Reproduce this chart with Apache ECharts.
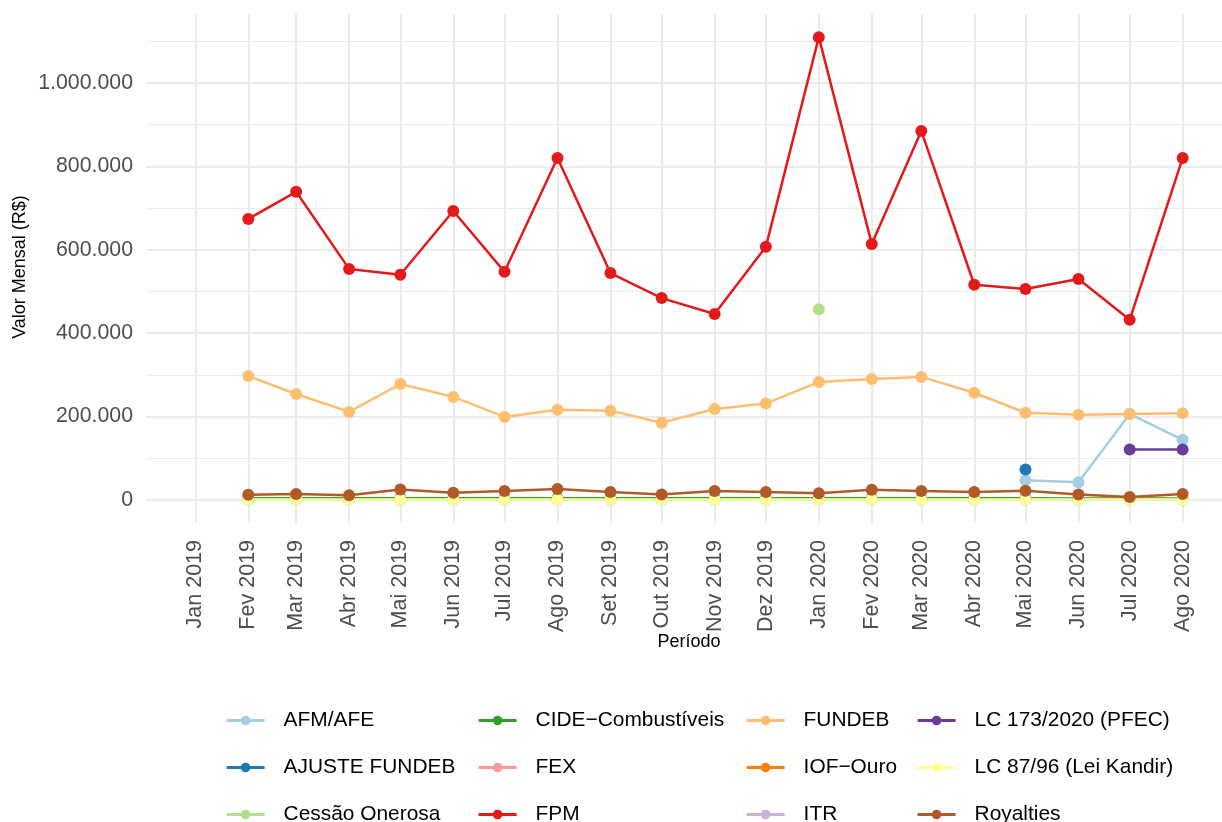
<!DOCTYPE html>
<html>
<head>
<meta charset="utf-8">
<script src="https://cdn.jsdelivr.net/npm/echarts@6/dist/echarts.min.js"></script>
<style>
  html, body { margin: 0; padding: 0; background: #ffffff; }
  #chart { width: 1222px; height: 822px; }
</style>
</head>
<body>
<div id="chart"></div>
<script>
// month labels on the x axis (Portuguese abbreviations)
const mesesPt = ["Jan", "Fev", "Mar", "Abr", "Mai", "Jun", "Jul", "Ago", "Set", "Out", "Nov", "Dez"];
const rotulos = [
  "Jan 2019", "Fev 2019", "Mar 2019", "Abr 2019", "Mai 2019", "Jun 2019", "Jul 2019",
  "Ago 2019", "Set 2019", "Out 2019", "Nov 2019", "Dez 2019", "Jan 2020", "Fev 2020",
  "Mar 2020", "Abr 2020", "Mai 2020", "Jun 2020", "Jul 2020", "Ago 2020"
];

// values per month, aligned with rotulos (null = no transfer)
const afmAfe = [null, null, null, null, null, null, null, null, null, null, null, null,
  null, null, null, null, 47000, 42000, 206000, 144000];
const ajusteFundeb = [null, null, null, null, null, null, null, null, null, null, null, null,
  null, null, null, null, 73000, null, null, null];
const cessaoOnerosa = [null, null, null, null, null, null, null, null, null, null, null, null,
  457000, null, null, null, null, null, null, null];
const cide = [null, 4000, 4000, 4000, 4000, 4000, 4000, 4000, 4000, 4000, 4000, 4000,
  4000, 4000, 4000, 4000, 4000, 3500, 3500, 3500];
const fex = [null, null, null, null, null, null, null, null, null, null, null, null,
  null, null, null, null, null, null, null, null];
const fpm = [null, 674000, 739000, 554000, 540000, 693000, 547000, 820000, 544000, 484000,
  446000, 607000, 1110000, 614000, 885000, 516000, 506000, 530000, 432000, 820000];
const fundeb = [null, 297000, 254000, 211000, 278000, 247000, 199000, 216000, 214000, 185000,
  218000, 231000, 283000, 290000, 295000, 257000, 209000, 204000, 206000, 208000];
const iofOuro = [null, null, null, null, null, null, null, null, null, null, null, null,
  null, null, null, null, null, null, null, null];
const itr = [null, 300, 300, 300, 300, 300, 300, 300, 300, 300, 300, 300,
  300, 300, 300, 300, 300, 300, 300, 300];
const lc173 = [null, null, null, null, null, null, null, null, null, null, null, null,
  null, null, null, null, null, null, 121000, 121000];
const lc8796 = [null, 800, 800, 800, 800, 800, 800, 800, 800, 800, 800, 800,
  800, 800, 800, 800, 800, 800, 800, 800];
const royalties = [null, 12000, 14000, 11000, 25000, 17000, 21000, 26000, 19000, 13000,
  21000, 19000, 16000, 24000, 21000, 19000, 22000, 13000, 7000, 14000];

const yTicks = [0, 200000, 400000, 600000, 800000, 1000000];
const yMinor = [100000, 300000, 500000, 700000, 900000, 1100000];

const nomes = [
  "AFM/AFE", "AJUSTE FUNDEB", "Cessão Onerosa",
  "CIDE\u2212Combustíveis", "FEX", "FPM",
  "FUNDEB", "IOF\u2212Ouro", "ITR",
  "LC 173/2020 (PFEC)", "LC 87/96 (Lei Kandir)", "Royalties"
];
const valores = [afmAfe, ajusteFundeb, cessaoOnerosa, cide, fex, fpm,
  fundeb, iofOuro, itr, lc173, lc8796, royalties];
const cores = ["#A6CEE3", "#1F78B4", "#B2DF8A", "#33A02C", "#FB9A99", "#E31A1C",
  "#FDBF6F", "#FF7F00", "#CAB2D6", "#6A3D9A", "#FFFF99", "#B15928"];

// label -> timestamp of first day of month
function paraData(rotulo) {
  const [m, a] = rotulo.split(" ");
  return Date.UTC(+a, mesesPt.indexOf(m), 1);
}
const datas = rotulos.map(paraData);
const expande = (datas[datas.length - 1] - datas[0]) * 0.05;

function milhar(v) {
  return String(v).replace(/\B(?=(\d{3})+(?!\d))/g, ".");
}

const series = nomes.map((nome, i) => ({
  name: nome,
  type: "line",
  data: valores[i].map((v, j) => [datas[j], v]),
  connectNulls: false,
  symbol: "circle",
  symbolSize: 12,
  showSymbol: true,
  itemStyle: { color: cores[i] },
  lineStyle: { color: cores[i], width: 2.5 },
  emphasis: { disabled: true },
  animation: false
}));

const colunas = [nomes.slice(0, 3), nomes.slice(3, 6), nomes.slice(6, 9), nomes.slice(9, 12)];
const legendaX = [225, 477, 745, 916];
const fonte = "Liberation Sans, Arial, sans-serif";

const chart = echarts.init(document.getElementById("chart"));
chart.setOption({
  backgroundColor: "#ffffff",
  animation: false,
  textStyle: { fontFamily: fonte },
  grid: { left: 146, top: 14, width: 1086, height: 509, containLabel: false, outerBoundsMode: "none" },
  xAxis: {
    type: "value",
    min: datas[0] - expande,
    max: datas[datas.length - 1] + expande,
    axisLine: { show: false },
    axisTick: { show: false, customValues: datas },
    splitLine: { show: true, lineStyle: { color: "#EBEBEB", width: 2 } },
    axisLabel: {
      customValues: datas,
      rotate: 90,
      margin: 17,
      fontSize: 21.5,
      color: "#4D4D4D",
      formatter: (v) => rotulos[datas.indexOf(v)]
    }
  },
  yAxis: [
    {
      type: "value",
      min: -55500,
      max: 1165500,
      axisLine: { show: false },
      axisTick: { show: false, customValues: yTicks },
      splitLine: { show: true, lineStyle: { color: "#EBEBEB", width: 2 } },
      axisLabel: {
        customValues: yTicks,
        margin: 13,
        fontSize: 21.3,
        color: "#4D4D4D",
        formatter: (v) => milhar(v)
      }
    },
    {
      type: "value",
      min: -55500,
      max: 1165500,
      position: "left",
      axisLine: { show: false },
      axisTick: { show: false, customValues: yMinor },
      axisLabel: { show: false, customValues: yMinor },
      splitLine: { show: true, lineStyle: { color: "#EBEBEB", width: 1 } }
    }
  ],
  legend: colunas.map((col, k) => ({
    data: col,
    orient: "vertical",
    left: legendaX[k],
    top: 710,
    height: 140,
    padding: 0,
    itemWidth: 38,
    itemHeight: 12,
    itemGap: 26,
    selectedMode: false,
    lineStyle: { width: 3.2 },
    textStyle: { fontSize: 20.9, color: "#000000", padding: [0, 0, 0, 14], lineHeight: 20 }
  })),
  graphic: [
    {
      type: "text",
      x: 689,
      y: 642,
      style: { text: "Período", fontSize: 18, fill: "#000000", align: "center", verticalAlign: "middle",
        fontFamily: fonte }
    },
    {
      type: "text",
      x: 20,
      y: 267,
      rotation: Math.PI / 2,
      style: { text: "Valor Mensal (R$)", fontSize: 18, fill: "#000000", align: "center", verticalAlign: "middle",
        fontFamily: fonte }
    }
  ],
  series: series
});
</script>
</body>
</html>
